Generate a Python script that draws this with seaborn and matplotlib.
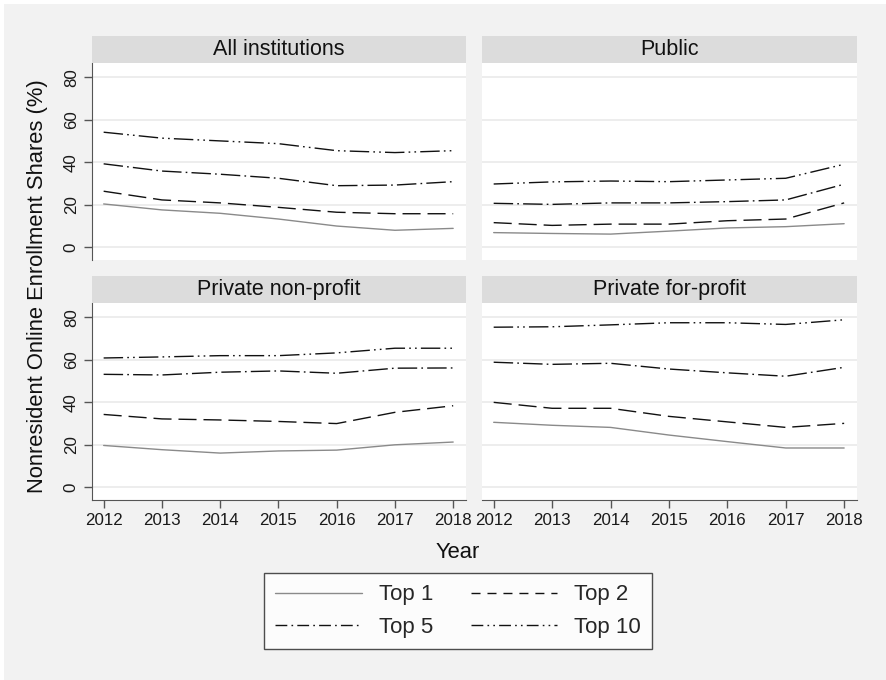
import numpy as np
import pandas as pd
import seaborn as sns
import matplotlib
matplotlib.use("Agg")
import matplotlib.pyplot as plt
from matplotlib.lines import Line2D
from matplotlib.patches import Rectangle

sns.set_style("white")
plt.rcParams["font.family"] = ["Liberation Sans", "DejaVu Sans"]

# ---- data -------------------------------------------------------------
years = [2012, 2013, 2014, 2015, 2016, 2017, 2018]
panels = ["All institutions", "Public", "Private non-profit", "Private for-profit"]
series = ["Top 1", "Top 2", "Top 5", "Top 10"]

all_top1 = [20.3, 17.5, 15.9, 13.2, 9.9, 7.9, 8.8]
all_top2 = [26.3, 22.2, 20.8, 18.7, 16.4, 15.7, 15.7]
all_top5 = [39.2, 35.8, 34.3, 32.4, 28.9, 29.2, 30.8]
all_top10 = [54.1, 51.3, 50.0, 48.7, 45.4, 44.5, 45.4]

pub_top1 = [6.8, 6.4, 6.1, 7.5, 9.0, 9.6, 11.0]
pub_top2 = [11.5, 10.2, 10.8, 10.8, 12.4, 13.2, 20.8]
pub_top5 = [20.6, 20.1, 20.8, 20.8, 21.4, 22.2, 29.6]
pub_top10 = [29.7, 30.7, 31.1, 30.8, 31.6, 32.4, 39.0]

npo_top1 = [19.6, 17.6, 16.0, 17.0, 17.4, 19.9, 21.2]
npo_top2 = [34.2, 32.1, 31.6, 30.9, 29.9, 35.2, 38.3]
npo_top5 = [53.1, 52.8, 54.1, 54.7, 53.6, 56.0, 56.1]
npo_top10 = [60.8, 61.3, 61.9, 61.9, 63.2, 65.4, 65.4]

fp_top1 = [30.5, 29.1, 28.1, 24.5, 21.4, 18.4, 18.4]
fp_top2 = [39.9, 37.1, 37.1, 33.3, 30.7, 28.1, 30.0]
fp_top5 = [58.8, 57.8, 58.3, 55.6, 53.8, 52.2, 56.4]
fp_top10 = [75.3, 75.5, 76.4, 77.4, 77.4, 76.6, 78.8]

yticks = [0, 20, 40, 60, 80]

values = {
    "All institutions": [all_top1, all_top2, all_top5, all_top10],
    "Public": [pub_top1, pub_top2, pub_top5, pub_top10],
    "Private non-profit": [npo_top1, npo_top2, npo_top5, npo_top10],
    "Private for-profit": [fp_top1, fp_top2, fp_top5, fp_top10],
}
rows = []
for p in panels:
    for s, vals in zip(series, values[p]):
        for y, v in zip(years, vals):
            rows.append({"panel": p, "series": s, "year": y, "share": v})
df = pd.DataFrame(rows)

# ---- styles -------------------------------------------------------------
palette = {"Top 1": "#8a8a8a", "Top 2": "#111111", "Top 5": "#111111", "Top 10": "#111111"}
dashes = {"Top 1": "", "Top 2": (13, 5), "Top 5": (14, 3, 1.2, 3),
          "Top 10": (14, 3, 1.2, 3, 1.2, 3)}
bg = "#f2f2f2"
strip_col = "#dcdcdc"
spine_col = "#555555"
grid_col = "#e8e8e8"

W, H = 886, 680
fig = plt.figure(figsize=(W / 100, H / 100), dpi=100, facecolor=bg)
# thin white margin along top and left edge
fig.patches.append(Rectangle((0, 1 - 4 / H), 1, 4 / H, transform=fig.transFigure,
                             facecolor="white", edgecolor="none", zorder=-1))
fig.patches.append(Rectangle((0, 0), 4 / W, 1, transform=fig.transFigure,
                             facecolor="white", edgecolor="none", zorder=-1))

lefts = [92, 482]
widths = [374, 375]
tops = [63, 303]
ax_h = 197
strip_h = 27

for i, p in enumerate(panels):
    r, c = divmod(i, 2)
    x0 = lefts[c]
    y_top = tops[r]
    ax = fig.add_axes([x0 / W, 1 - (y_top + ax_h) / H, widths[c] / W, ax_h / H])
    ax.set_facecolor("white")
    sub = df[df["panel"] == p]
    sns.lineplot(data=sub, x="year", y="share", hue="series", style="series",
                 palette=palette, dashes=dashes, hue_order=series, style_order=series,
                 linewidth=1.0, ax=ax, legend=False)
    ax.set_xlim(2011.8, 2018.22)
    ax.set_ylim(-6.1, 86.7)
    ax.set_yticks(yticks)
    ax.set_xticks(years)
    ax.set_xlabel("")
    ax.set_ylabel("")
    for yv in yticks:
        ax.axhline(yv, color=grid_col, lw=1.1, zorder=0)
    for sp in ax.spines.values():
        sp.set_visible(False)
    ax.tick_params(axis="both", labelsize=12.2, colors=spine_col, labelcolor="#1a1a1a",
                   length=5.5, width=1.0, pad=4)
    if c == 0:
        ax.spines["left"].set_visible(True)
        ax.spines["left"].set_color(spine_col)
        ax.tick_params(axis="y", left=True, labelleft=True)
        for lab in ax.get_yticklabels():
            lab.set_rotation(90)
            lab.set_va("center")
    else:
        ax.tick_params(axis="y", left=False, labelleft=False)
    if r == 1:
        ax.spines["bottom"].set_visible(True)
        ax.spines["bottom"].set_color(spine_col)
        ax.tick_params(axis="x", bottom=True, labelbottom=True)
    else:
        ax.tick_params(axis="x", bottom=False, labelbottom=False)

    # panel header strip
    sy = 1 - y_top / H
    fig.patches.append(Rectangle((x0 / W, sy), widths[c] / W, strip_h / H,
                                 transform=fig.transFigure, facecolor=strip_col,
                                 edgecolor="none"))
    fig.text((x0 + widths[c] / 2) / W, sy + strip_h / 2 / H, p, ha="center",
             va="center", fontsize=15.5, color="#111111")

fig.text(38 / W, 1 - 286 / H, "Nonresident Online Enrollment Shares (%)",
         rotation=90, ha="center", va="center", fontsize=15.8, color="#111111")
fig.text(458 / W, 1 - 552 / H, "Year", ha="center", va="center",
         fontsize=15.8, color="#111111")

legend_dashes = {"Top 1": None, "Top 2": (6.5, 5), "Top 5": (8.5, 3, 1.2, 3),
                 "Top 10": (8.5, 3, 1.2, 3, 1.2, 3)}
handles = []
for s in series:
    h = Line2D([0], [0], color=palette[s], lw=1.0)
    if legend_dashes[s] is not None:
        h.set_dashes(legend_dashes[s])
    handles.append(h)
order = [0, 2, 1, 3]
leg = fig.legend([handles[k] for k in order], [series[k] for k in order], ncol=2,
                 loc="center", bbox_to_anchor=(458 / W, 1 - 611 / H),
                 frameon=True, fancybox=False, edgecolor="#222222", facecolor="white",
                 fontsize=16, handlelength=3.9, handletextpad=0.75,
                 columnspacing=1.7, labelspacing=0.5, borderpad=0.5)
leg.get_frame().set_linewidth(1.0)

fig.savefig("out.png", dpi=100, facecolor=bg)
